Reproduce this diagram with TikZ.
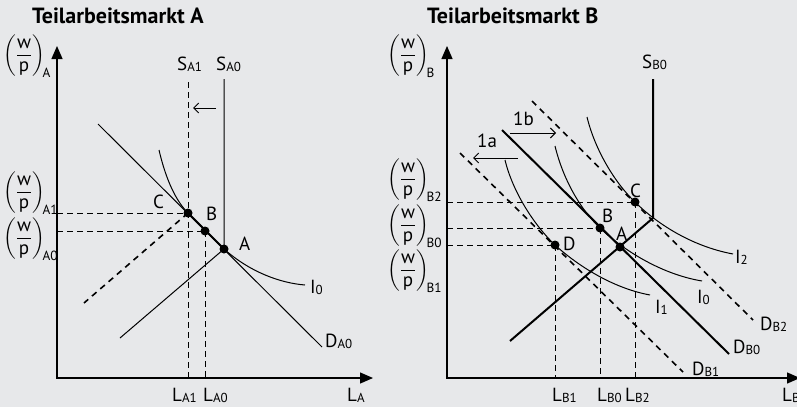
\documentclass[tikz,border=0pt]{standalone}
\usepackage{amsmath}
\usepackage{fontspec}
\setmainfont{PT Sans}
\usetikzlibrary{arrows.meta}
\definecolor{bg}{RGB}{231,232,234}
\newcommand{\wpfrac}[1]{$\left(\dfrac{\text{w}}{\text{p}}\right)_{\!\text{#1}}$}
\newcommand{\sbs}[1]{\raisebox{-1.5pt}{\fontsize{13}{13}\selectfont #1}}
\begin{document}
\begin{tikzpicture}[x=1pt,y=-1pt,
  lab/.style={font=\fontsize{19}{21}\selectfont, inner sep=0pt, anchor=base west},
  fr/.style={font=\fontsize{19}{21}\selectfont, inner sep=0pt, anchor=west},
  ttl/.style={font=\fontsize{22}{24}\selectfont\bfseries, inner sep=0pt, anchor=base west},
  axes/.style={line width=1.3pt, {Triangle[width=11pt,length=13pt]}-{Triangle[width=11pt,length=13pt]}},
  thinln/.style={line width=1pt},
  boldln/.style={line width=2pt},
  dsh/.style={line width=1pt, dash pattern=on 6pt off 4pt},
  ddsh/.style={line width=1.6pt, dash pattern=on 6pt off 5pt},
  dot/.style={circle, fill=black, inner sep=0pt, minimum size=9pt},
  shiftarr/.style={line width=1pt, -{Straight Barb[length=5pt,width=10pt]}},
]
\fill[bg] (0,0) rectangle (797,407);
\useasboundingbox (0,0) rectangle (797,407);

% ---------------- Left panel ----------------
\node[ttl] (tA) at (32,23) {Teilarbeitsmarkt A};
\coordinate (YA) at (57,46);
\coordinate (OA) at (57,378);
\coordinate (XA) at (373,378);
\draw[axes] (YA) -- (OA) -- (XA);

\coordinate (Cp) at (188,213);
\coordinate (Bp) at (205,231);
\coordinate (Ap) at (224,249);

% dashed guides
\draw[dsh] (57,213) -- (Cp);
\draw[dsh] (57,231) -- (Bp);
\draw[dsh] (188,82) -- (188,378);
\draw[dsh] (Bp) -- (205,378);

% supply
\draw[thinln] (224,79) -- (Ap) -- (120,338);
\draw[ddsh] (Cp) -- (84,303);
\draw[shiftarr] (216,108) -- (193,108);

% demand
\draw[thinln] (98,124) -- (322,347);
% indifference curve
\draw[thinln] (159,150) .. controls (166,180) and (176,201) .. (Cp) -- (Ap)
   .. controls (250,272) and (280,283) .. (305,285);
\draw[boldln] (Cp) -- (Ap);

\node[dot] (Cd) at (Cp) {};
\node[dot] (Bd) at (Bp) {};
\node[dot] (Ad) at (Ap) {};

\node[lab] (lC) at (153,208) {C};
\node[lab] (lB) at (206,220) {B};
\node[lab] (lA) at (239,250) {A};
\node[lab] (lSA1) at (177,70) {S\sbs{A1}};
\node[lab] (lSA0) at (216,70) {S\sbs{A0}};
\node[lab] (lI0) at (310,293) {I\sbs{0}};
\node[lab] (lDA0) at (325,347) {D\sbs{A0}};
\node[lab] (lLA1) at (172,401) {L\sbs{A1}};
\node[lab] (lLA0) at (203,401) {L\sbs{A0}};
\node[lab] (lLA) at (347,401) {L\sbs{A}};

\node[fr] (fA) at (3,56) {\wpfrac{A}};
\node[fr] (fA1) at (3,193) {\wpfrac{A1}};
\node[fr] (fA0) at (3,239) {\wpfrac{A0}};

% ---------------- Right panel ----------------
\node[ttl] (tB) at (427,23) {Teilarbeitsmarkt B};
\coordinate (YB) at (447,46);
\coordinate (OB) at (447,378);
\coordinate (XB) at (800,378);
\draw[axes] (YB) -- (OB) -- (XB);

\coordinate (Cq) at (635,202);
\coordinate (Bq) at (600,228);
\coordinate (Aq) at (620,247);
\coordinate (Dq) at (555,245);

\draw[dsh] (447,202) -- (Cq);
\draw[dsh] (447,228) -- (Bq);
\draw[dsh] (447,245) -- (Dq);
\draw[dsh] (Cq) -- (635,378);
\draw[dsh] (Bq) -- (600,378);
\draw[dsh] (Dq) -- (555,378);

% supply
\draw[boldln] (653,79) -- (653,218) -- (510,341);

% demand curves
\draw[boldln] (502,130) -- (729,354);
\draw[ddsh] (460,153) -- (683,372);
\draw[ddsh] (532,101) -- (753,320);

% indifference curves
\draw[thinln] (587,117) .. controls (595,150) and (615,183) .. (Cq)
   .. controls (655,222) and (690,246) .. (733,254);
\draw[thinln] (555,146) .. controls (563,179) and (580,209) .. (Bq)
   .. controls (622,249) and (660,274) .. (702,281);
\draw[thinln] (505,160) .. controls (513,193) and (535,226) .. (Dq)
   .. controls (577,265) and (612,288) .. (650,295);

% shift arrows
\draw[shiftarr] (510,133) -- (556,133);
\draw[shiftarr] (518,158) -- (473,158);
\node[lab] (l1b) at (513,125) {1b};
\node[lab] (l1a) at (477,147) {1a};

\node[dot] (Cd2) at (Cq) {};
\node[dot] (Bd2) at (Bq) {};
\node[dot] (Ad2) at (Aq) {};
\node[dot] (Dd2) at (Dq) {};

\node[lab] (mC) at (630,197) {C};
\node[lab] (mB) at (602,222) {B};
\node[lab] (mA) at (616,240) {A};
\node[lab] (mD) at (563,250) {D};
\node[lab] (lSB0) at (642,68) {S\sbs{B0}};
\node[lab] (lI2) at (735,263) {I\sbs{2}};
\node[lab] (lI0b) at (697,303) {I\sbs{0}};
\node[lab] (lI1) at (655,313) {I\sbs{1}};
\node[lab] (lDB2) at (760,330) {D\sbs{B2}};
\node[lab] (lDB0) at (733,353) {D\sbs{B0}};
\node[lab] (lDB1) at (692,375) {D\sbs{B1}};
\node[lab] (lLB1) at (552,401) {L\sbs{B1}};
\node[lab] (lLB0) at (597,401) {L\sbs{B0}};
\node[lab] (lLB2) at (625,401) {L\sbs{B2}};
\node[lab] (lLB) at (782,401) {L\sbs{B}};

\node[fr] (fB) at (387,56) {\wpfrac{B}};
\node[fr] (fB2) at (387,180) {\wpfrac{B2}};
\node[fr] (fB0) at (387,226) {\wpfrac{B0}};
\node[fr] (fB1) at (387,271) {\wpfrac{B1}};
\end{tikzpicture}
\end{document}
